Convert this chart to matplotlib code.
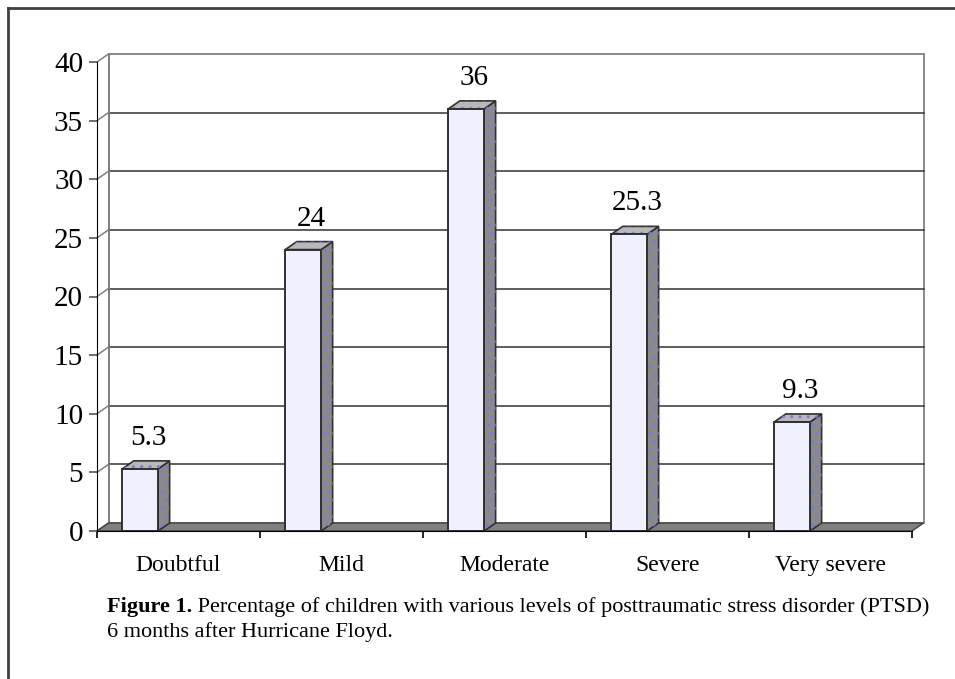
import matplotlib.pyplot as plt
from matplotlib.patches import Polygon, Rectangle
from matplotlib.lines import Line2D

plt.rcParams['font.family'] = ['Liberation Serif', 'DejaVu Serif']
plt.rcParams['hatch.linewidth'] = 1.0

categories = ['Doubtful', 'Mild', 'Moderate', 'Severe', 'Very severe']
percent = [5.3, 24, 36, 25.3, 9.3]
yticks = [0, 5, 10, 15, 20, 25, 30, 35, 40]
caption_bold = 'Figure 1.'
caption_text = (' Percentage of children with various levels of posttraumatic stress disorder (PTSD)')
caption_line2 = '6 months after Hurricane Floyd.'

W, H = 955, 679
fig = plt.figure(figsize=(W / 100, H / 100), dpi=100)

# front plane of the 3d box in pixels
x_left, x_right = 97, 912
y_bottom, y_top = 531, 62
ax = fig.add_axes([x_left / W, (H - y_bottom) / H,
                   (x_right - x_left) / W, (y_bottom - y_top) / H])
ax.set_xlim(0, 5)
ax.set_ylim(0, 40)
ax.set_facecolor('none')

# depth of the box, in data units (about 11 px right, 8 px up)
px_x = (x_right - x_left) / 5
px_y = (y_bottom - y_top) / 40
DX = 11.5 / px_x
DY = 8 / px_y

# back wall and gridlines
ax.add_patch(Rectangle((DX, DY), 5, 40, facecolor='white', edgecolor='#808080',
                       lw=1.3, zorder=0.5, clip_on=False))
for v in yticks[1:-1]:
    ax.add_line(Line2D([DX, 5 + DX], [v + DY, v + DY], color='#333333', lw=1.1,
                       zorder=0.6, clip_on=False))
# side wall edges
for v in yticks:
    ax.add_line(Line2D([0, DX], [v, v + DY], color='#808080', lw=1.1,
                       zorder=0.6, clip_on=False))
ax.add_line(Line2D([DX, DX], [DY, 40 + DY], color='#808080', lw=1.1,
                   zorder=0.6, clip_on=False))

# floor
ax.add_patch(Polygon([(0, 0), (5, 0), (5 + DX, DY), (DX, DY)], closed=True,
                     facecolor='#808080', edgecolor='#404040', lw=1,
                     zorder=1, clip_on=False))

# bars
bw = 0.22
for i, v in enumerate(percent):
    x0 = i + 0.155
    x1 = x0 + bw
    side = [(x1, 0), (x1 + DX, DY), (x1 + DX, v + DY), (x1, v)]
    top = [(x0, v), (x1, v), (x1 + DX, v + DY), (x0 + DX, v + DY)]
    ax.add_patch(Polygon(side, closed=True, facecolor='#8a8a8a',
                         edgecolor='#303030', lw=1.2, zorder=2, clip_on=False))
    ax.add_patch(Polygon(side, closed=True, facecolor='none',
                         edgecolor='#7a7ae0', lw=0, hatch='..', zorder=2.1,
                         clip_on=False))
    ax.add_patch(Polygon(top, closed=True, facecolor='#b8b8b8',
                         edgecolor='#303030', lw=1.2, zorder=2, clip_on=False))
    ax.add_patch(Polygon(top, closed=True, facecolor='none',
                         edgecolor='#7a7ae0', lw=0, hatch='..', zorder=2.1,
                         clip_on=False))
    ax.add_patch(Rectangle((x0, 0), bw, v, facecolor='#f0f0ff',
                           edgecolor='#303030', lw=1.4, zorder=2.2,
                           clip_on=False))
    ax.annotate('{:g}'.format(v), xy=(x0 + bw / 2 + DX / 2, v + DY),
                xytext=(1.5, 11.5), textcoords='offset points',
                ha='center', va='baseline', fontsize=21, zorder=3)

# axes: front left spine and floor edge
for s in ['top', 'right']:
    ax.spines[s].set_visible(False)
ax.spines['left'].set_color('black')
ax.spines['bottom'].set_color('black')
ax.spines['left'].set_zorder(3)
ax.spines['bottom'].set_zorder(3)
ax.set_yticks(yticks)
ax.set_yticklabels([str(t) for t in yticks])
ax.tick_params(axis='y', direction='out', length=6, width=1.2,
               color='#555555', labelsize=21, pad=4)
ax.set_xticks(range(6))
ax.set_xticklabels([])
ax.tick_params(axis='x', which='major', direction='out', length=5, width=1.2,
               color='black')
ax.set_xticks([i + 0.5 for i in range(5)], minor=True)
ax.set_xticklabels(categories, minor=True)
ax.tick_params(axis='x', which='minor', length=0, labelsize=17, pad=17)

# outer frame
fig.add_artist(Line2D([8 / W, 8 / W], [0, 1 - 8 / H], transform=fig.transFigure,
                      color='#404040', lw=2))
fig.add_artist(Line2D([8 / W, 1], [1 - 8 / H, 1 - 8 / H], transform=fig.transFigure,
                      color='#404040', lw=2))

# caption
t = fig.text(107 / W, 1 - 612 / H, caption_bold, fontsize=16, fontweight='bold',
             ha='left', va='baseline')
fig.canvas.draw()
bb = t.get_window_extent()
fig.text(bb.x1 / W, 1 - 612 / H, caption_text, fontsize=16, ha='left',
         va='baseline')
fig.text(107 / W, 1 - 637 / H, caption_line2, fontsize=16, ha='left',
         va='baseline')

fig.savefig('out.png', dpi=100)
